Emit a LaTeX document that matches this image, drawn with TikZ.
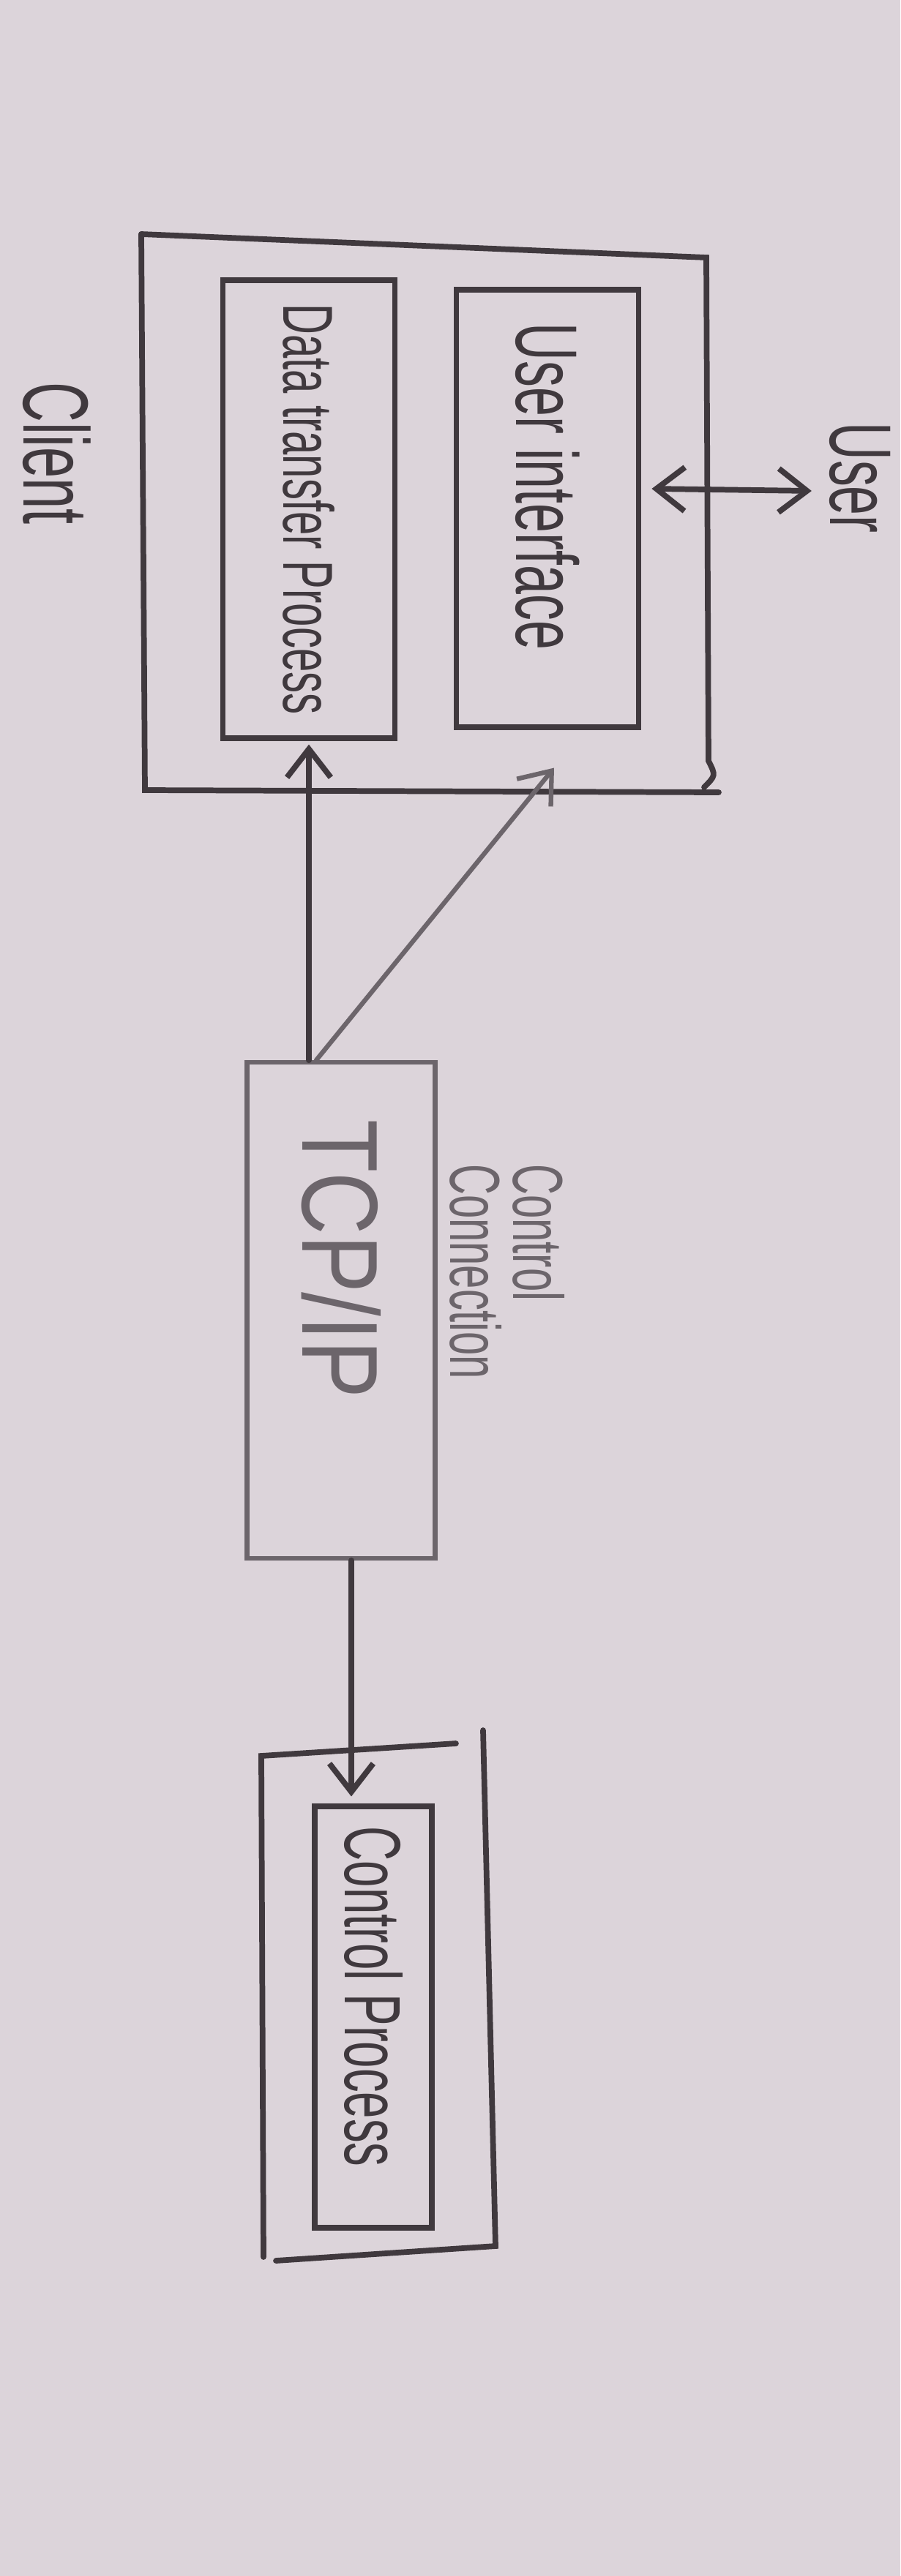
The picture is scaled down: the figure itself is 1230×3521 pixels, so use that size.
\documentclass[tikz,border=0pt]{standalone}
\usepackage{fontspec}
\setmainfont{Liberation Sans}
\usepackage{graphicx}
\usetikzlibrary{arrows.meta,calc}

\definecolor{paper}{RGB}{220,212,218}
\definecolor{ink}{RGB}{64,57,62}
\definecolor{pencil}{RGB}{108,101,107}

% text that runs downwards, squeezed like the handwriting
\newcommand{\downtext}[2][0.6]{\rotatebox{-90}{\scalebox{#1}[1]{#2}}}

\begin{document}
\begin{tikzpicture}[x=0.01cm, y=-0.01cm,
        box/.style={draw=ink, line width=2.2pt, inner sep=0pt},
        softbox/.style={draw=pencil, line width=1.8pt, inner sep=0pt},
        wire/.style={draw=ink, line width=2.2pt, line cap=round},
        softwire/.style={draw=pencil, line width=1.8pt, line cap=round},
        >={Straight Barb[length=11pt, width=17pt]}
    ]

    % paper
    \fill[paper] (0,0) rectangle (1230,3521);
    \useasboundingbox (0,0) rectangle (1230,3521);

    % client frame
    \draw[wire] (193,320) -- (965,352) -- (968,1040) .. controls (978,1060) .. (962,1076);
    \draw[wire] (193,320) -- (198,1080) -- (982,1083);
    \node[font=\fontsize{36}{40}\selectfont, text=ink] (client) at (78,620) {\downtext{Client}};

    % client processes
    \node[box, minimum width=2.35cm, minimum height=6.25cm, font=\fontsize{27.5}{30}\selectfont, text=ink]
        (dtp) at (422,696) {\downtext{Data transfer Process}};
    \node[box, minimum width=2.49cm, minimum height=5.97cm, font=\fontsize{34}{36}\selectfont, text=ink]
        (ui) at (748,695) {\downtext{User interface\hspace{1cm}}};

    % user
    \node[font=\fontsize{34}{36}\selectfont, text=ink] (user) at (1175,653) {\downtext{User}};
    \draw[wire, <->] (ui.east |- user.west) ++(14,15) -- ($(user.west)+(-12,18)$);

    % TCP/IP
    \node[softbox, minimum width=2.57cm, minimum height=6.77cm, font=\fontsize{42}{44}\selectfont, text=pencil]
        (tcp) at (466,1791) {\downtext[0.8]{TCP/IP\hspace{1.75cm}}};
    \node[font=\fontsize{27.5}{24.7}\selectfont, text=pencil, rotate=-90, align=left]
        (ctrlconn) at (693,1738) {\scalebox{0.6}[1]{Control}\\\scalebox{0.6}[1]{Connection}};

    % connections
    \coordinate (uitip) at ($(ui.south)+(9,52)$);
    \draw[wire, ->] (dtp.south |- tcp.north) -- ($(dtp.south)+(0,5)$);
    \draw[softwire, ->] ($(dtp.south |- tcp.north)+(10,0)$) -- (uitip);

    % server
    \draw[wire] (623,2383) -- (357,2400) -- (360,3085);
    \draw[wire] (377,3090) -- (677,3070) -- (660,2365);
    \node[box, minimum width=1.6cm, minimum height=5.75cm, font=\fontsize{31}{33}\selectfont, text=ink]
        (ctrl) at (510,2757) {\downtext{Control Process\hspace{0.93cm}}};
    \coordinate (ctrltip) at ($(ctrl.north)+(-30,-10)$);
    \draw[wire, ->] (ctrltip |- tcp.south) -- (ctrltip);

\end{tikzpicture}
\end{document}
